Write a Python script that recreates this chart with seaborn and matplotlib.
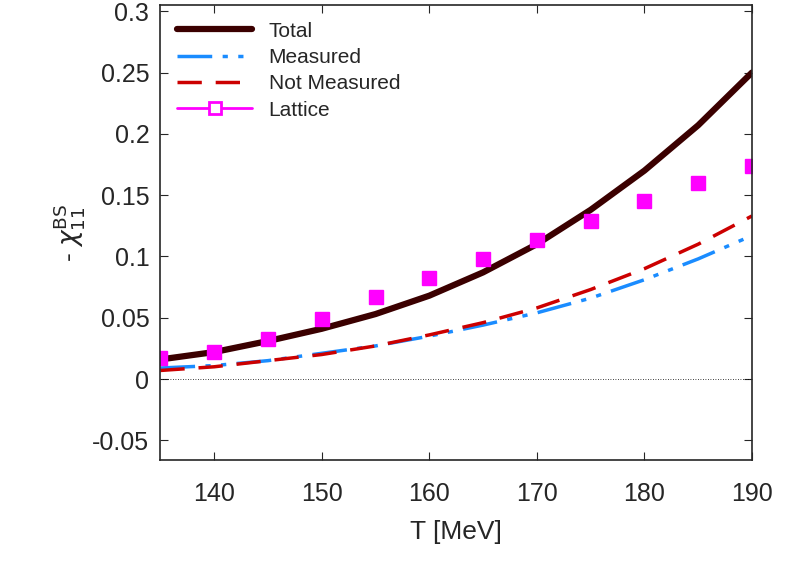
import numpy as np
import pandas as pd
import matplotlib
matplotlib.use("Agg")
import matplotlib.pyplot as plt
from matplotlib.lines import Line2D
import seaborn as sns

T = [135, 140, 145, 150, 155, 160, 165, 170, 175, 180, 185, 190]
total = [0.016, 0.022, 0.031, 0.041, 0.053, 0.068, 0.087, 0.110, 0.138, 0.170, 0.207, 0.250]
measured = [0.009, 0.011, 0.015, 0.021, 0.027, 0.035, 0.044, 0.054, 0.066, 0.081, 0.098, 0.117]
not_measured = [0.007, 0.010, 0.015, 0.020, 0.027, 0.036, 0.046, 0.058, 0.073, 0.090, 0.110, 0.133]
lattice = [0.017, 0.022, 0.033, 0.049, 0.067, 0.082, 0.098, 0.113, 0.129, 0.145, 0.160, 0.174]
lattice_err = [0.002, 0.002, 0.002, 0.002, 0.002, 0.002, 0.002, 0.002, 0.002, 0.002, 0.002, 0.002]

df = pd.DataFrame({"T": T, "Total": total, "Measured": measured,
                   "Not Measured": not_measured, "Lattice": lattice})

sns.set_style("ticks")
plt.rcParams["font.family"] = "Liberation Sans"
fig = plt.figure(figsize=(8.06, 5.63), dpi=100)
ax = fig.add_axes([0.199, 0.183, 0.734, 0.808])

sns.lineplot(data=df, x="T", y="Total", ax=ax, color="#3b0000", lw=4.5, legend=False)
sns.lineplot(data=df, x="T", y="Measured", ax=ax, color="#1a8cff", lw=2.5, legend=False)
ax.lines[-1].set_dashes([10, 3, 1.5, 3, 1.5, 3])
sns.lineplot(data=df, x="T", y="Not Measured", ax=ax, color="#cc0000", lw=2.5, legend=False)
ax.lines[-1].set_dashes([7, 4])
ax.errorbar(T, lattice, yerr=lattice_err, fmt="s", color="#ff00ff", ms=10, lw=1.5, capsize=3)
ax.axhline(0, color="black", lw=0.6, ls=(0, (1, 2)))

ax.set_xlim(135, 190)
ax.set_ylim(-0.066, 0.305)
ax.set_xticks([140, 150, 160, 170, 180, 190])
ax.set_yticks([-0.05, 0, 0.05, 0.1, 0.15, 0.2, 0.25, 0.3])
ax.set_yticklabels(["-0.05", "0", "0.05", "0.1", "0.15", "0.2", "0.25", "0.3"])
ax.tick_params(direction="in", top=True, right=True, labelsize=18, length=6)
ax.tick_params(axis="x", pad=16)
ax.tick_params(axis="y", pad=8)
ax.set_xlabel("T [MeV]", fontsize=19, labelpad=10)
ax.set_ylabel(r"- $\chi_{11}^{\mathrm{BS}}$", fontsize=19)
for s in ax.spines.values():
    s.set_linewidth(1.2)

h_tot = Line2D([], [], color="#3b0000", lw=4.5)
h_mea = Line2D([], [], color="#1a8cff", lw=2.5, dashes=[10, 3, 1.5, 3, 1.5, 3])
h_nm = Line2D([], [], color="#cc0000", lw=2.5, dashes=[7, 4])
h_lat = Line2D([], [], color="#ff00ff", lw=2, marker="s", ms=9,
               markerfacecolor="white", markeredgewidth=2)
ax.legend([h_tot, h_mea, h_nm, h_lat], ["Total", "Measured", "Not Measured", "Lattice"],
          loc="upper left", fontsize=15, frameon=False, handlelength=3.6,
          labelspacing=0.35, borderaxespad=0.4)
fig.savefig("out.png", dpi=100)
